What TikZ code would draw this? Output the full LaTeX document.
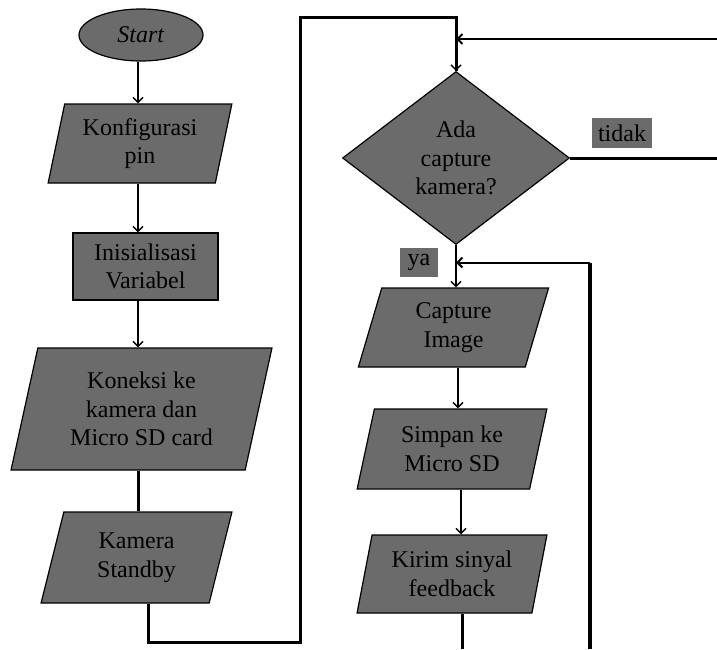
\documentclass[tikz,border=0pt]{standalone}
\usepackage{fontspec}
\setmainfont{Liberation Serif}
\usetikzlibrary{shapes.geometric,arrows.meta}
\definecolor{boxgray}{HTML}{6B6B6B}

\tikzset{
    blok/.style={draw, line width=1.2pt, fill=boxgray, align=center,
        inner sep=0pt, font=\fontsize{24}{28.5}\selectfont},
    iobox/.style={blok, trapezium, trapezium left angle=76,
        trapezium right angle=104, trapezium stretches=true},
    tagbox/.style={fill=boxgray, inner sep=0pt, font=\fontsize{24}{28.5}\selectfont},
    flow/.style={line width=1.5pt, -{Straight Barb[length=5pt,width=10pt]}},
    loopline/.style={line width=3pt},
}

\begin{document}
\begin{tikzpicture}[x=1pt, y=-1pt]
    \useasboundingbox (0,0) rectangle (717,649);
    % left column
    \node[blok, ellipse, minimum width=124, minimum height=52] (start) at (141,35) {\textit{Start}};
    \node[iobox, minimum width=184, minimum height=79] (konfig) at (140,143.5) {Konfigurasi\\pin};
    \node[blok, rectangle, minimum width=145, minimum height=67] (init) at (145.5,266.5) {Inisialisasi\\Variabel};
    \node[iobox, minimum width=261, minimum height=122] (koneksi) at (141.5,409) {Koneksi ke\\kamera dan\\Micro SD card};
    \node[iobox, minimum width=191, minimum height=91] (standby) at (136.5,557.5) {Kamera\\Standby};
    % right column
    \node[blok, diamond, minimum width=227, minimum height=173] (cek) at (456,158) {Ada\\capture\\kamera?};
    \node[iobox, minimum width=191, minimum height=79] (capture) at (453.5,327.5) {Capture\\Image};
    \node[iobox, minimum width=190, minimum height=80] (simpan) at (452,449) {Simpan ke\\Micro SD};
    \node[iobox, minimum width=190, minimum height=78] (kirim) at (452,574) {Kirim sinyal\\feedback};
    % labels
    \node[tagbox, minimum width=60, minimum height=30] (tidak) at (622,133) {tidak};
    \node[tagbox, minimum width=38, minimum height=29] (ya) at (419,262.5) {ya};
    % free ends
    \coordinate (bawah) at (148,642);
    \coordinate (atas) at (300,17);
    \coordinate (kanan) at (717,39);
    \coordinate (kanan2) at (717,158);
    \coordinate (balik) at (590,649);
    \coordinate (ujung) at (462,649);

    \draw[flow] (start.south -| 138,0) -- (konfig.north -| 138,0);
    \draw[flow] (konfig.south -| 138,0) -- (init.north -| 138,0);
    \draw[flow] (init.south -| 138,0) -- (koneksi.north -| 138,0);
    \draw[loopline] (koneksi.south -| 138,0) -- (standby.north -| 138,0);
    \draw[loopline] (standby.south -| bawah) -- (bawah) -| (atas) -| (cek.north);
    \draw[flow] (atas -| cek.north) -- (cek.north);
    \draw[flow, line width=2pt] (kanan) -- (kanan -| cek.north);
    \draw[loopline] (cek.east) -- (kanan2);
    \draw[flow] (cek.south) -- (capture.north -| cek.south);
    \draw[loopline, line width=3.5pt] (balik) -- (balik |- ya);
    \draw[flow, line width=2pt] (balik |- ya) -- (ya -| cek.south);
    \draw[flow] (capture.south -| 458,0) -- (simpan.north -| 458,0);
    \draw[flow] (simpan.south -| 461,0) -- (kirim.north -| 461,0);
    \draw[loopline] (kirim.south -| ujung) -- (ujung);
\end{tikzpicture}
\end{document}
